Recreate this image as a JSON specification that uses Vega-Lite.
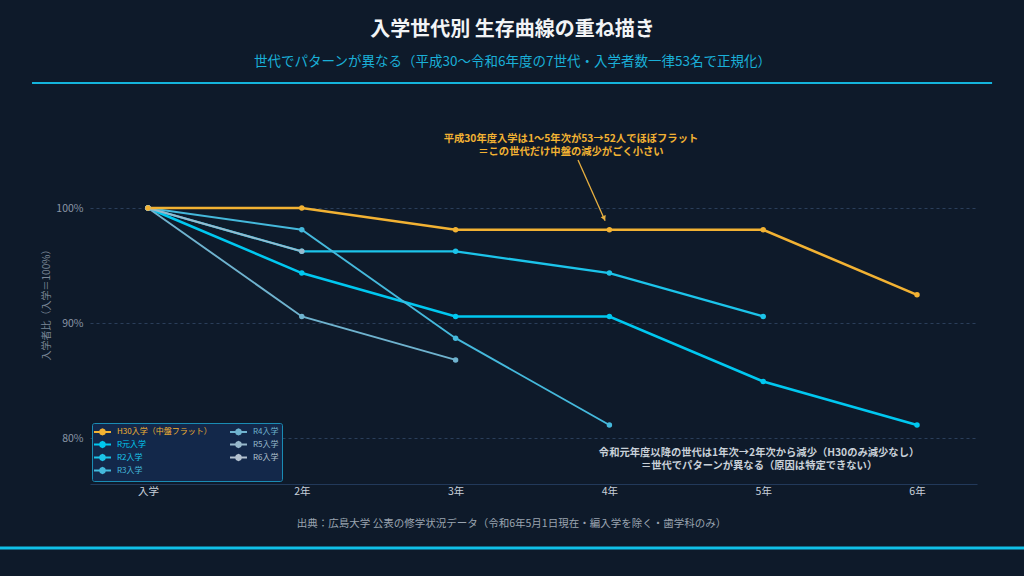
{
  "$schema": "https://vega.github.io/schema/vega-lite/v6.json",
  "width": 887,
  "height": 368,
  "autosize": {"type": "none"},
  "padding": {"left": 90, "top": 116, "right": 47, "bottom": 92},
  "background": "#0e1a2a",
  "config": {
    "font": "Noto Sans CJK JP",
    "view": {"stroke": null},
    "axis": {"labelFont": "Noto Sans CJK JP", "titleFont": "Noto Sans CJK JP"}
  },
  "title": {
    "text": "入学世代別 生存曲線の重ね描き",
    "subtitle": "世代でパターンが異なる（平成30〜令和6年度の7世代・入学者数一律53名で正規化）",
    "anchor": "middle",
    "frame": "group",
    "dx": -21,
    "offset": 13,
    "fontSize": 20,
    "fontWeight": "bold",
    "color": "#f2f4f6",
    "subtitleFontSize": 13.5,
    "subtitleColor": "#1ab0d8",
    "subtitlePadding": 15
  },
  "datasets": {
    "cohorts": [
      {"cohort": "R元入学", "stage": "入学", "idx": 0, "pct": 100},
      {"cohort": "R元入学", "stage": "2年", "idx": 1, "pct": 94.34},
      {"cohort": "R元入学", "stage": "3年", "idx": 2, "pct": 90.57},
      {"cohort": "R元入学", "stage": "4年", "idx": 3, "pct": 90.57},
      {"cohort": "R元入学", "stage": "5年", "idx": 4, "pct": 84.91},
      {"cohort": "R元入学", "stage": "6年", "idx": 5, "pct": 81.13},
      {"cohort": "R2入学", "stage": "入学", "idx": 0, "pct": 100},
      {"cohort": "R2入学", "stage": "2年", "idx": 1, "pct": 96.23},
      {"cohort": "R2入学", "stage": "3年", "idx": 2, "pct": 96.23},
      {"cohort": "R2入学", "stage": "4年", "idx": 3, "pct": 94.34},
      {"cohort": "R2入学", "stage": "5年", "idx": 4, "pct": 90.57},
      {"cohort": "R3入学", "stage": "入学", "idx": 0, "pct": 100},
      {"cohort": "R3入学", "stage": "2年", "idx": 1, "pct": 98.11},
      {"cohort": "R3入学", "stage": "3年", "idx": 2, "pct": 88.68},
      {"cohort": "R3入学", "stage": "4年", "idx": 3, "pct": 81.13},
      {"cohort": "R4入学", "stage": "入学", "idx": 0, "pct": 100},
      {"cohort": "R4入学", "stage": "2年", "idx": 1, "pct": 90.57},
      {"cohort": "R4入学", "stage": "3年", "idx": 2, "pct": 86.79},
      {"cohort": "R5入学", "stage": "入学", "idx": 0, "pct": 100},
      {"cohort": "R5入学", "stage": "2年", "idx": 1, "pct": 96.23},
      {"cohort": "R6入学", "stage": "入学", "idx": 0, "pct": 100},
      {"cohort": "H30入学（中盤フラット）", "stage": "入学", "idx": 0, "pct": 100},
      {"cohort": "H30入学（中盤フラット）", "stage": "2年", "idx": 1, "pct": 100},
      {"cohort": "H30入学（中盤フラット）", "stage": "3年", "idx": 2, "pct": 98.11},
      {"cohort": "H30入学（中盤フラット）", "stage": "4年", "idx": 3, "pct": 98.11},
      {"cohort": "H30入学（中盤フラット）", "stage": "5年", "idx": 4, "pct": 98.11},
      {"cohort": "H30入学（中盤フラット）", "stage": "6年", "idx": 5, "pct": 92.45}
    ],
    "one": [{"id": 1}]
  },
  "layer": [
    {
      "data": {"name": "cohorts"},
      "mark": {"type": "line", "point": {"filled": true, "size": 30}},
      "encoding": {
        "x": {
          "field": "idx",
          "type": "quantitative",
          "scale": {"domain": [-0.377, 5.39], "nice": false, "zero": false},
          "axis": {
            "values": [0, 1, 2, 3, 4, 5],
            "labelExpr": "['入学','2年','3年','4年','5年','6年'][datum.value]",
            "grid": false,
            "ticks": false,
            "domainColor": "#22395a",
            "domainWidth": 1,
            "labelColor": "#c8d0da",
            "labelFontSize": 10.5,
            "labelPadding": 2,
            "title": "出典：広島大学 公表の修学状況データ（令和6年5月1日現在・編入学を除く・歯学科のみ）",
            "titleColor": "#9aa4b0",
            "titleFontSize": 10.5,
            "titleFontWeight": "normal",
            "titleX": 421,
            "titleY": 39,
            "titleAnchor": "middle",
            "titleAlign": "center",
            "titleBaseline": "middle"
          }
        },
        "y": {
          "field": "pct",
          "type": "quantitative",
          "scale": {"domain": [76, 108], "nice": false, "zero": false},
          "axis": {
            "values": [80, 90, 100],
            "labelExpr": "datum.value + '%'",
            "domain": false,
            "ticks": false,
            "grid": true,
            "gridColor": "#2a3e5a",
            "gridDash": [3, 3],
            "gridWidth": 1,
            "labelColor": "#8a96a6",
            "labelFontSize": 10.5,
            "labelPadding": 7,
            "title": "入学者比（入学＝100%）",
            "titleColor": "#7a8696",
            "titleFontSize": 10,
            "titleFontWeight": "normal",
            "titleX": -44,
            "titleY": 186,
            "titleAngle": -90,
            "titleAlign": "center",
            "titleBaseline": "middle"
          }
        },
        "color": {
          "field": "cohort",
          "type": "nominal",
          "scale": {
            "domain": ["H30入学（中盤フラット）", "R元入学", "R2入学", "R3入学", "R4入学", "R5入学", "R6入学"],
            "range": ["#f2b233", "#00c8f0", "#1cc4ea", "#45b9dc", "#6fb3cf", "#98b9cc", "#b4c2d0"]
          },
          "legend": {
            "title": null,
            "orient": "none",
            "legendX": 2,
            "legendY": 307,
            "columns": 2,
            "columnPadding": 14,
            "rowPadding": -2,
            "padding": 3,
            "fillColor": "#13284a",
            "strokeColor": "#1a8cb4",
            "cornerRadius": 2,
            "labelFontSize": 8,
            "labelOffset": 9,
            "labelColor": {"expr": "scale('color', datum.value)"},
            "symbolType": "M-2,0H2M-0.6,0L-0.42,-0.42L0,-0.6L0.42,-0.42L0.6,0L0.42,0.42L0,0.6L-0.42,0.42Z",
            "symbolSize": 72,
            "symbolStrokeWidth": 2,
            "symbolOffset": 2,
            "symbolFillColor": {"expr": "scale('color', datum.value)"}
          }
        },
        "strokeWidth": {
          "condition": [
            {"test": "datum.cohort == 'H30入学（中盤フラット）' || datum.cohort == 'R元入学'", "value": 2.6},
            {"test": "datum.cohort == 'R2入学'", "value": 2.3}
          ],
          "value": 1.9
        },
        "order": {"field": "idx"}
      }
    },
    {
      "data": {"name": "one"},
      "mark": {"type": "rule", "color": "#e8b040", "strokeWidth": 1.3},
      "encoding": {
        "x": {"datum": 2.796, "type": "quantitative"},
        "y": {"datum": 104.17, "type": "quantitative"},
        "x2": {"datum": 2.972},
        "y2": {"datum": 98.9}
      }
    },
    {
      "data": {"name": "one"},
      "mark": {"type": "point", "shape": "triangle-down", "filled": true, "color": "#e8b040", "size": 30, "angle": -24, "opacity": 1},
      "encoding": {
        "x": {"datum": 2.966, "type": "quantitative"},
        "y": {"datum": 99.1, "type": "quantitative"}
      }
    },
    {
      "data": {"name": "one"},
      "mark": {"type": "text", "text": ["平成30年度入学は1〜5年次が53→52人でほぼフラット", "＝この世代だけ中盤の減少がごく小さい"], "color": "#f2b233", "fontSize": 10.3, "fontWeight": "bold", "align": "center", "baseline": "middle", "lineHeight": 13},
      "encoding": {
        "x": {"datum": 2.75, "type": "quantitative"},
        "y": {"datum": 106.04, "type": "quantitative"}
      }
    },
    {
      "data": {"name": "one"},
      "mark": {"type": "text", "text": ["令和元年度以降の世代は1年次→2年次から減少（H30のみ減少なし）", "＝世代でパターンが異なる（原因は特定できない）"], "color": "#c8d0d8", "fontSize": 10.3, "fontWeight": "bold", "align": "center", "baseline": "middle", "lineHeight": 13},
      "encoding": {
        "x": {"datum": 3.973, "type": "quantitative"},
        "y": {"datum": 78.72, "type": "quantitative"}
      }
    },
    {
      "data": {"name": "one"},
      "mark": {"type": "rule", "color": "#14b4dc", "strokeWidth": 2},
      "encoding": {
        "x": {"datum": -0.754, "type": "quantitative"},
        "x2": {"datum": 5.488},
        "y": {"datum": 110.87, "type": "quantitative"}
      }
    },
    {
      "data": {"name": "one"},
      "mark": {"type": "rule", "color": "#10c0e8", "strokeWidth": 3},
      "encoding": {
        "x": {"datum": -0.97, "type": "quantitative"},
        "x2": {"datum": 5.7},
        "y": {"datum": 70.43, "type": "quantitative"}
      }
    }
  ]
}
